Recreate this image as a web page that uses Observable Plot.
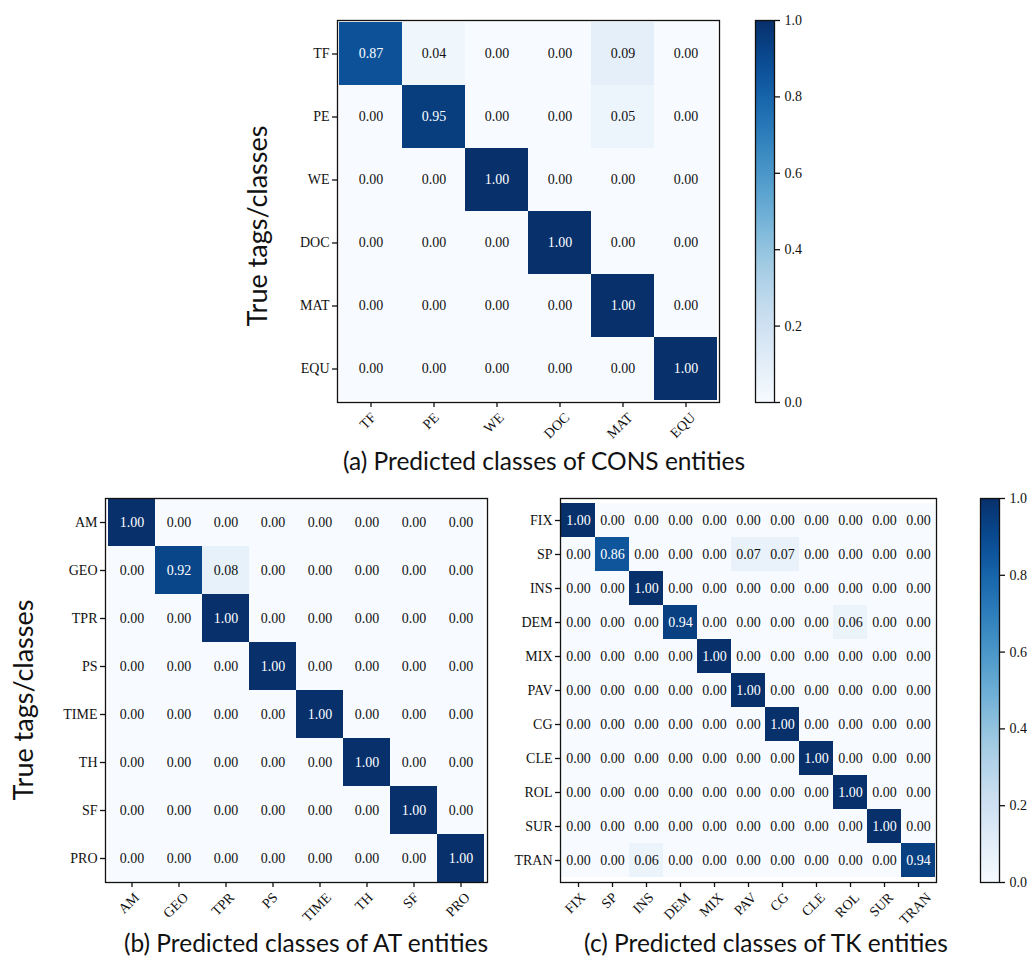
<!DOCTYPE html>
<html><head><meta charset="utf-8">
<script src="https://cdn.jsdelivr.net/npm/d3@7"></script>
<script src="https://cdn.jsdelivr.net/npm/@observablehq/plot@0.6"></script>
<style>
body{margin:0;background:#fff;}
#root{position:relative;width:1032px;height:956px;overflow:hidden;background:#fff;}
#root svg.abs{position:absolute;}
</style></head><body><div id="root"></div>
<script>
const consClasses = ["TF","PE","WE","DOC","MAT","EQU"];
const consValues = [
  [0.87,0.04,0.00,0.00,0.09,0.00],
  [0.00,0.95,0.00,0.00,0.05,0.00],
  [0.00,0.00,1.00,0.00,0.00,0.00],
  [0.00,0.00,0.00,1.00,0.00,0.00],
  [0.00,0.00,0.00,0.00,1.00,0.00],
  [0.00,0.00,0.00,0.00,0.00,1.00]
];
const atClasses = ["AM","GEO","TPR","PS","TIME","TH","SF","PRO"];
const atValues = [
  [1.00,0.00,0.00,0.00,0.00,0.00,0.00,0.00],
  [0.00,0.92,0.08,0.00,0.00,0.00,0.00,0.00],
  [0.00,0.00,1.00,0.00,0.00,0.00,0.00,0.00],
  [0.00,0.00,0.00,1.00,0.00,0.00,0.00,0.00],
  [0.00,0.00,0.00,0.00,1.00,0.00,0.00,0.00],
  [0.00,0.00,0.00,0.00,0.00,1.00,0.00,0.00],
  [0.00,0.00,0.00,0.00,0.00,0.00,1.00,0.00],
  [0.00,0.00,0.00,0.00,0.00,0.00,0.00,1.00]
];
const tkClasses = ["FIX","SP","INS","DEM","MIX","PAV","CG","CLE","ROL","SUR","TRAN"];
const tkValues = [
  [1.00,0.00,0.00,0.00,0.00,0.00,0.00,0.00,0.00,0.00,0.00],
  [0.00,0.86,0.00,0.00,0.00,0.07,0.07,0.00,0.00,0.00,0.00],
  [0.00,0.00,1.00,0.00,0.00,0.00,0.00,0.00,0.00,0.00,0.00],
  [0.00,0.00,0.00,0.94,0.00,0.00,0.00,0.00,0.06,0.00,0.00],
  [0.00,0.00,0.00,0.00,1.00,0.00,0.00,0.00,0.00,0.00,0.00],
  [0.00,0.00,0.00,0.00,0.00,1.00,0.00,0.00,0.00,0.00,0.00],
  [0.00,0.00,0.00,0.00,0.00,0.00,1.00,0.00,0.00,0.00,0.00],
  [0.00,0.00,0.00,0.00,0.00,0.00,0.00,1.00,0.00,0.00,0.00],
  [0.00,0.00,0.00,0.00,0.00,0.00,0.00,0.00,1.00,0.00,0.00],
  [0.00,0.00,0.00,0.00,0.00,0.00,0.00,0.00,0.00,1.00,0.00],
  [0.00,0.00,0.06,0.00,0.00,0.00,0.00,0.00,0.00,0.00,0.94]
];
const colorbarTicks = [0.0,0.2,0.4,0.6,0.8,1.0];
const yTitle = "True tags/classes";
const captions = {
  a: "(a) Predicted classes of CONS entities",
  b: "(b) Predicted classes of AT entities",
  c: "(c) Predicted classes of TK entities"
};

const SERIF = "'Liberation Serif','Times New Roman',serif";
const SANS = "Lato,'Open Sans',sans-serif";
const SVGNS = "http://www.w3.org/2000/svg";
const root = document.getElementById("root");
const colorOpts = {type: "linear", scheme: "blues", domain: [0, 1]};

function place(svg, left, top) {
  svg.classList.add("abs");
  svg.style.left = left + "px";
  svg.style.top = top + "px";
  root.appendChild(svg);
  return svg;
}

function matrix(classes, values, box) {
  const data = [];
  values.forEach((row, i) => row.forEach((v, j) => data.push({t: classes[i], p: classes[j], v})));
  const m = {top: 2, right: 2, bottom: 60, left: 60};
  const chart = Plot.plot({
    width: box.w + m.left + m.right,
    height: box.h + m.top + m.bottom,
    marginTop: m.top, marginRight: m.right, marginBottom: m.bottom, marginLeft: m.left,
    style: {fontFamily: SERIF, fontSize: "14px", background: "transparent", overflow: "visible", color: "#111"},
    x: {domain: classes, padding: 0, label: null},
    y: {domain: classes, padding: 0, label: null},
    color: colorOpts,
    marks: [
      Plot.cell(data, {x: "p", y: "t", fill: "v", inset: 0}),
      Plot.text(data.filter(d => d.v > 0.5), {x: "p", y: "t", text: d => d.v.toFixed(2), fill: "white", fontSize: 14}),
      Plot.text(data.filter(d => d.v <= 0.5), {x: "p", y: "t", text: d => d.v.toFixed(2), fill: "#111", fontSize: 14}),
      Plot.frame({stroke: "#111", strokeWidth: 1.3}),
      Plot.axisY({tickSize: 5, tickPadding: 3, fontSize: 14, label: null, strokeWidth: 1.3}),
      Plot.axisX({tickSize: 5, tickFormat: () => "", label: null, strokeWidth: 1.3}),
      Plot.text(classes, {x: d => d, frameAnchor: "bottom", rotate: -45, textAnchor: "middle", fontSize: 14, fill: "#111", ariaDescription: "xlabels"})
    ]
  });
  place(chart, box.x - m.left, box.y - m.top);
  // center each rotated label's bounding box under its tick (matplotlib style)
  chart.querySelectorAll('g[aria-description="xlabels"] text').forEach(t => {
    const w = t.getComputedTextLength();
    const off = 12.5 + (w + 9.5) * 0.3536;
    const g = document.createElementNS(SVGNS, "g");
    g.setAttribute("transform", `translate(0,${off.toFixed(2)})`);
    t.parentNode.insertBefore(g, t);
    g.appendChild(t);
  });
  return chart;
}

function colorbar(box) {
  const grad = Plot.raster
    ? Plot.raster({x1: 0, x2: 1, y1: 0, y2: 1, fill: (x, y) => y, width: 1, height: 256, imageRendering: "auto"})
    : Plot.rect(d3.range(0, 1, 1 / 256), {x1: 0, x2: 1, y1: d => d, y2: d => d + 1 / 256, fill: d => d});
  const chart = Plot.plot({
    width: box.w + 1 + 40, height: box.h + 4,
    marginLeft: 1, marginRight: 40, marginTop: 2, marginBottom: 2,
    style: {fontFamily: SERIF, fontSize: "14px", background: "transparent", overflow: "visible", color: "#111"},
    x: {domain: [0, 1], axis: null},
    y: {domain: [0, 1], axis: null},
    color: colorOpts,
    marks: [
      grad,
      Plot.frame({stroke: "#111", strokeWidth: 1.3}),
      Plot.axisY(colorbarTicks, {anchor: "right", tickSize: 5, tickPadding: 5, tickFormat: d => d.toFixed(1), fontSize: 14, label: null, strokeWidth: 1.3})
    ]
  });
  place(chart, box.x - 1, box.y - 2);
  return chart;
}

matrix(consClasses, consValues, {x: 337, y: 20, w: 382, h: 382});
matrix(atClasses, atValues, {x: 105, y: 498, w: 382, h: 384});
matrix(tkClasses, tkValues, {x: 560, y: 498, w: 376, h: 384});
colorbar({x: 755, y: 20, w: 19, h: 382});
colorbar({x: 980, y: 498, w: 19, h: 384});

// titles & captions overlay
const ov = d3.select(root).append("svg")
  .attr("class", "abs").attr("width", 1032).attr("height", 956)
  .style("left", "0px").style("top", "0px").style("pointer-events", "none")
  .style("font-family", SANS).attr("fill", "#111");
[[258, 226], [24, 700]].forEach(([x, y]) => {
  ov.append("text").attr("transform", `translate(${x},${y}) rotate(-90)`)
    .attr("text-anchor", "middle").attr("dy", "0.35em").style("font-size", "27px").text(yTitle);
});
[[544, 470, captions.a], [306, 952, captions.b], [766, 952, captions.c]].forEach(([x, y, s]) => {
  ov.append("text").attr("x", x).attr("y", y).attr("text-anchor", "middle").style("font-size", "24.5px").text(s);
});
</script></body></html>
